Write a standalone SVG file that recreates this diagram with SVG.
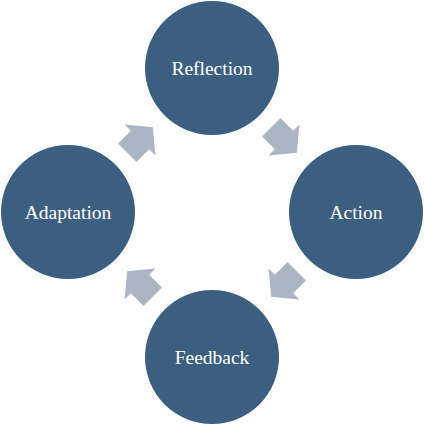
<svg xmlns="http://www.w3.org/2000/svg" width="425" height="425" viewBox="0 0 425 425">
<style>
.node circle{fill:#3c5f81;}
.node text{font-family:"Liberation Serif","Times New Roman",serif;font-size:19.5px;fill:#ffffff;text-anchor:middle;}
.arrow{fill:#aab4c2;}
</style>
<defs>
<path id="blk" d="M-18,-13 L0,-13 L0,-22 L18,0 L0,22 L0,13 L-18,13 Z"/>
</defs>
<rect width="425" height="425" fill="#ffffff"/>
<g id="connectors">
<use href="#blk" class="arrow" transform="translate(140,140) rotate(-45)"/>
<use href="#blk" class="arrow" transform="translate(284,140) rotate(45)"/>
<use href="#blk" class="arrow" transform="translate(284,284) rotate(135)"/>
<use href="#blk" class="arrow" transform="translate(140,284) rotate(-135)"/>
</g>
<g id="reflection" class="node"><circle cx="212" cy="68" r="67"/><text x="212" y="74.5">Reflection</text></g>
<g id="action" class="node"><circle cx="356" cy="212" r="67"/><text x="356" y="218.5">Action</text></g>
<g id="feedback" class="node"><circle cx="212" cy="357" r="67"/><text x="212" y="363.5">Feedback</text></g>
<g id="adaptation" class="node"><circle cx="68" cy="212" r="67"/><text x="68" y="218.5">Adaptation</text></g>
</svg>
